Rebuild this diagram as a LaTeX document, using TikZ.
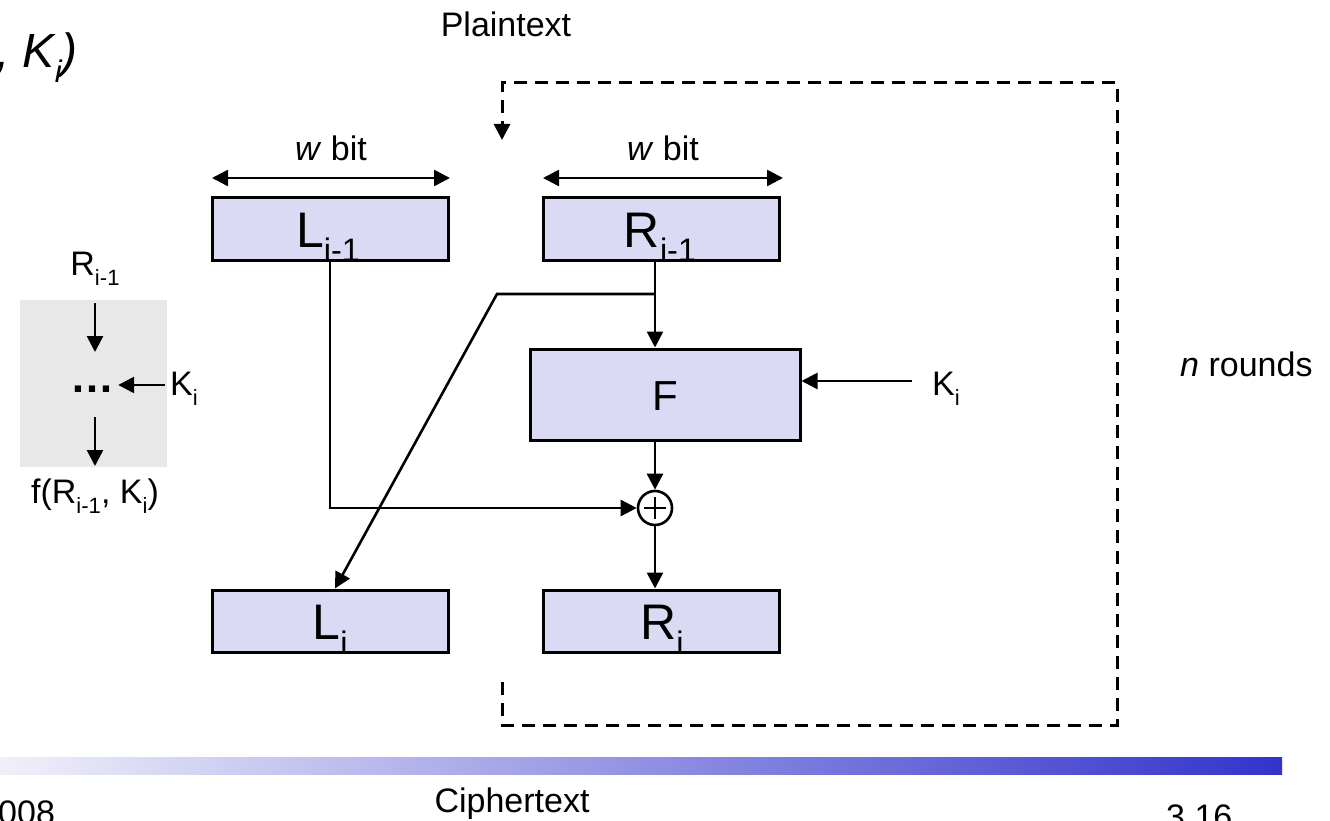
\documentclass[tikz,border=0pt]{standalone}
\usepackage{fontspec}
\usepackage{graphicx}
\setmainfont{Liberation Sans}
\usetikzlibrary{arrows.meta,calc}
\definecolor{boxfill}{RGB}{218,218,244}
\definecolor{panelgray}{RGB}{232,232,232}
\definecolor{barleft}{RGB}{240,240,250}
\definecolor{barright}{RGB}{51,51,204}
\newcommand\subs[1]{\raisebox{-0.3em}{\scalebox{0.65}{#1}}}
\begin{document}
\begin{tikzpicture}[x=1pt,y=-1pt,
  lbl/.style={font=\fontsize{34}{40}\selectfont, inner sep=0pt},
  biglbl/.style={font=\fontsize{50}{58}\selectfont, inner sep=0pt},
  regbox/.style={draw, line width=3pt, fill=boxfill, minimum width=236pt, minimum height=62pt, inner sep=0pt},
  conn/.style={line width=2.6pt},
  arr/.style={line width=2.6pt, -{Triangle[length=16pt,width=16pt]}},
  dblarr/.style={line width=2.6pt, {Triangle[length=16pt,width=16pt]}-{Triangle[length=16pt,width=16pt]}},
  loopline/.style={line width=3pt, dash pattern=on 13pt off 8pt, -{Triangle[length=16pt,width=16pt]}}]
\useasboundingbox (0,0) rectangle (1330,821);

% gradient bar
\shade[left color=barleft, right color=barright] (0,757) rectangle (1282,774);

% partial title
\node[lbl, font=\fontsize{48}{56}\selectfont\itshape, anchor=base west] (title) at (-4,68) {, K\subs{i})};

% texts top/bottom
\node[lbl, anchor=base] (plain) at (506,37) {Plaintext};
\node[lbl, anchor=base] (cipher) at (512,812) {Ciphertext};
\node[lbl, anchor=base west] (year) at (-2,824) {008};
\node[lbl, anchor=base west] (page) at (1166,828) {3.16};
\node[lbl, anchor=base west] (rounds) at (1180,376) {\textit{n} rounds};

% left panel
\fill[panelgray] (20,300) rectangle (167,467);
\node[lbl, anchor=base] (pR) at (95,275) {R\subs{i-1}};
\coordinate (p1a) at (95,303);
\coordinate (p1b) at (95,352);
\draw[arr] (p1a) -- (p1b);
\node[lbl, font=\fontsize{44}{44}\selectfont\bfseries, anchor=base] (dots) at (92,392) {\char"2026};
\node[lbl, anchor=base west] (pK) at (170,395) {K\subs{i}};
\coordinate (pka) at (165,385);
\draw[arr] (pka) -- ($(dots.east |- pka)+(4,0)$);
\coordinate (p2a) at (95,417);
\coordinate (p2b) at (95,466);
\draw[arr] (p2a) -- (p2b);
\node[lbl, anchor=base] (pf) at (95,503) {f(R\subs{i-1}, K\subs{i})};

% w bit arrows
\coordinate (wl1) at (212,178); \coordinate (wl2) at (450,178);
\coordinate (wr1) at (543,178); \coordinate (wr2) at (783,178);
\draw[dblarr] (wl1) -- (wl2);
\draw[dblarr] (wr1) -- (wr2);
\node[lbl, anchor=base] (wbl) at (331,161) {\textit{w} bit};
\node[lbl, anchor=base] (wbr) at (663,161) {\textit{w} bit};

% boxes
\node[regbox] (Lp) at (330,229) {};
\node[regbox] (Rp) at (661,229) {};
\node[regbox] (Li) at (330,621) {};
\node[regbox] (Ri) at (661,621) {};
\node[draw, line width=3pt, fill=boxfill, minimum width=270pt, minimum height=91pt, inner sep=0pt] (F) at (665,394.5) {};
\node[biglbl, anchor=base] at (328,247) {L\subs{i-1}};
\node[biglbl, anchor=base] at (660,247) {R\subs{i-1}};
\node[biglbl, anchor=base] at (330,639) {L\subs{i}};
\node[biglbl, anchor=base] at (662,639) {R\subs{i}};
\node[font=\fontsize{42}{48}\selectfont, inner sep=0pt] (Flbl) at (665,396) {F};

% xor
\node[draw, circle, line width=2.6pt, minimum size=34pt, inner sep=0pt, fill=white] (xor) at (655,508) {};
\draw[line width=1.6pt] ($(xor.center)+(-11,0)$) -- ($(xor.center)+(11,0)$);
\draw[line width=1.6pt] ($(xor.center)+(0,-11)$) -- ($(xor.center)+(0,11)$);

% connectors
\coordinate (br) at (655,294);
\coordinate (bl) at (497,294);
\draw[conn] (xor |- Rp.south) -- (br);
\draw[arr] (br) -- (xor |- F.north);
\draw[arr] (br) -- (bl) -- ($(Li.north)+(5,0)$);
\draw[arr] (Lp.south) |- (xor.west);
\draw[arr] (xor |- F.south) -- (xor.north);
\draw[arr] (xor.south) -- (xor |- Ri.north);
\node[lbl, anchor=base west] (K) at (932,395) {K\subs{i}};
\coordinate (ka) at (912,381);
\draw[arr] (ka) -- (F.east |- ka);

% dashed loop
\coordinate (d0) at (502,682);
\coordinate (d1) at (502,725);
\coordinate (d2) at (1117,725);
\coordinate (d3) at (1117,83);
\coordinate (d4) at (502,83);
\coordinate (d5) at (502,140);
\draw[loopline] (d0) -- (d1) -- (d2) -- (d3) -- (d4) -- (d5);
\end{tikzpicture}
\end{document}
